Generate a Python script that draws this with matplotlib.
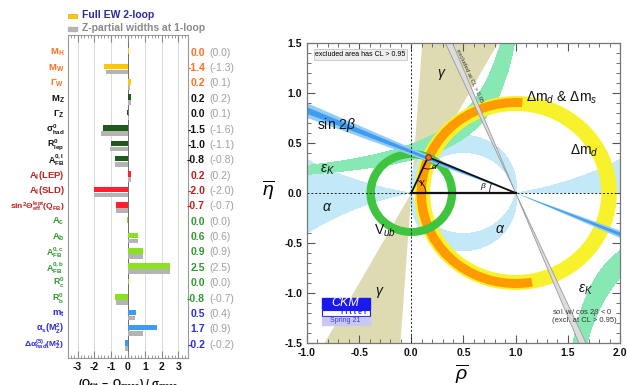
import numpy as np
import matplotlib.pyplot as plt
from matplotlib.patches import Wedge, Rectangle, Arc
from matplotlib.ticker import MultipleLocator, FormatStrFormatter

plt.rcParams['font.family'] = ['Liberation Sans', 'DejaVu Sans']
plt.rcParams['mathtext.fontset'] = 'custom'
plt.rcParams['mathtext.rm'] = 'Liberation Sans'
plt.rcParams['mathtext.it'] = 'Liberation Sans:italic'
plt.rcParams['mathtext.bf'] = 'Liberation Sans:bold'
plt.rcParams['axes.unicode_minus'] = False

# ---- left panel: EW fit pulls ----
labels = [r'$\mathbf{M_H}$', r'$\mathbf{M_W}$', r'$\mathbf{\Gamma_W}$', r'$\mathbf{M_Z}$',
          r'$\mathbf{\Gamma_Z}$', r'$\mathbf{\sigma^0_{had}}$', r'$\mathbf{R^0_{lep}}$',
          r'$\mathbf{A^{0,l}_{FB}}$', r'$\mathbf{A_l(LEP)}$', r'$\mathbf{A_l(SLD)}$',
          r'$\mathbf{sin^2\Theta^{lept}_{eff}(Q_{FB})}$', r'$\mathbf{A_c}$', r'$\mathbf{A_b}$',
          r'$\mathbf{A^{0,c}_{FB}}$', r'$\mathbf{A^{0,b}_{FB}}$', r'$\mathbf{R^0_c}$',
          r'$\mathbf{R^0_b}$', r'$\mathbf{m_t}$', r'$\mathbf{\alpha_s(M^2_Z)}$',
          r'$\mathbf{\Delta\alpha^{(5)}_{had}(M^2_Z)}$']
pull_2loop = [0.03, -1.4, 0.2, 0.2, -0.04, -1.5, -1.0, -0.8, 0.2, -2.0,
              -0.7, -0.03, 0.6, 0.9, 2.5, 0.03, -0.8, 0.5, 1.7, -0.2]
pull_1loop = [0.02, -1.3, 0.1, 0.2, 0.08, -1.6, -1.1, -0.8, 0.2, -2.0,
              -0.7, -0.02, 0.6, 0.9, 2.5, 0.02, -0.7, 0.4, 0.9, -0.2]
group = [0, 0, 0, 1, 1, 1, 1, 1, 2, 2, 2, 3, 3, 3, 3, 3, 3, 4, 4, 4]
label_colors = ['#ff7020', '#111111', '#c0201c', '#2f9a2f', '#2a2ae0']
bar_colors = ['#ffc800', '#1f5a1a', '#ff1f2e', '#8ae21e', '#3c9cf5']
grey_bar = '#b4b4b4'

# ---- right panel: CKM constraints ----
apex = (0.16, 0.36)
vub_r = (0.35, 0.43)
dmd_r = (0.82, 0.97)
dms_r = (0.86, 0.95)
dms_theta = (86, 280)
gamma_deg = (61, 86)
beta_deg = (20.6, 24.2)
beta_core = (21.6, 23.2)
beta_excl_deg = (65.8, 68.0)
epsk_rho0 = 1.27
epsk_k = (0.42, 0.62)
alpha_deg = (82, 102)
alpha_small = (-10.5, 9.0)

fig = plt.figure(figsize=(6.27, 3.85), dpi=100)
W, H = 627.0, 385.0


def fx(x):
    return x / W


def fy(y):
    return 1 - y / H


ax1 = fig.add_axes([fx(68), fy(358), 120 / W, 323 / H])
n = len(labels)
ypos = np.arange(n)
cols = [bar_colors[g] for g in group]
ax1.barh(ypos, pull_2loop, height=0.36, color=cols, zorder=3)
ax1.barh(ypos + 0.36, pull_1loop, height=0.30, color=grey_bar, zorder=3)
for xg in range(-3, 4):
    ax1.axvline(xg, color='#555555' if xg == 0 else '#d4d4d4', lw=0.6, zorder=1)
ax1.set_xlim(-3.57, 3.57)
ax1.set_ylim(19.97, -1.05)
ax1.set_yticks([])
ax1.set_xticks(range(-3, 4))
ax1.xaxis.set_minor_locator(MultipleLocator(0.2))
ax1.tick_params(axis='x', which='both', direction='in', top=True, labelsize=7.5,
                colors='#888888', labelcolor='#111111', pad=3)
ax1.tick_params(axis='x', which='major', length=5)
ax1.tick_params(axis='x', which='minor', length=2.5)
for lab in ax1.get_xticklabels():
    lab.set_fontweight('bold')
for s in ax1.spines.values():
    s.set_color('#999999')
    s.set_linewidth(0.8)

for i in range(n):
    c = label_colors[group[i]]
    fs = 6.8
    if len(labels[i]) > 40:
        fs = 6.0
    elif '^' in labels[i] and '_' in labels[i]:
        fs = 6.4
    ax1.text(-0.03, i + 0.1, labels[i], transform=ax1.get_yaxis_transform(),
             ha='right', va='center', fontsize=fs, color=c)
    v2 = round(pull_2loop[i], 1) + 0.0
    v1 = round(pull_1loop[i], 1) + 0.0
    ax1.text(1.142, i + 0.1, f'{v2:.1f}', transform=ax1.get_yaxis_transform(),
             ha='right', va='center', fontsize=7.5, color=c, fontweight='bold')
    ax1.text(1.18, i + 0.1, f'({v1:.1f})', transform=ax1.get_yaxis_transform(),
             ha='left', va='center', fontsize=7.5, color='#a0a0a0')

# legend
fig.patches.append(Rectangle((fx(68), fy(18)), 9 / W, 4.5 / H, transform=fig.transFigure,
                             color=bar_colors[0], ec='#cc9900', lw=0.4))
fig.patches.append(Rectangle((fx(68), fy(31)), 9 / W, 4.5 / H, transform=fig.transFigure,
                             color=grey_bar))
fig.text(fx(82), fy(15), 'Full EW 2-loop', fontsize=7.5, fontweight='bold',
         color='#2b2b9a', va='center')
fig.text(fx(82), fy(28), 'Z-partial widths at 1-loop', fontsize=7.5, fontweight='bold',
         color='#8a8a8a', va='center')
fig.text(fx(128), fy(377), r'$\mathbf{(O_{fit}\ -\ O_{meas})\ /\ \sigma_{meas}}$',
         fontsize=7.5, ha='center', va='top', color='#111111')

# ---- right panel ----
ax2 = fig.add_axes([fx(307), fy(343), 313 / W, 300 / H])
ax2.set_xlim(-1, 2)
ax2.set_ylim(-1.5, 1.5)

rho, eta = np.meshgrid(np.linspace(-1, 2, 900), np.linspace(-1.5, 1.5, 900))
theta = np.degrees(np.arctan2(eta, eta ** 2 - rho * (1 - rho)))
alpha_mask = ((np.abs(theta) >= alpha_deg[0]) & (np.abs(theta) <= alpha_deg[1])) | \
             ((theta >= alpha_small[0]) & (theta <= alpha_small[1]) & (rho < 0.5)) | \
             ((theta >= 0) & (theta <= alpha_small[1]) & (rho >= 0.5))
prod = eta * (epsk_rho0 - rho)
epsk_mask = (prod >= epsk_k[0]) & (prod <= epsk_k[1])

# gamma wedges
for off in (0, 180):
    ax2.add_patch(Wedge((0, 0), 4, gamma_deg[0] + off, gamma_deg[1] + off,
                        color='#dedbb3', lw=0, zorder=1))
ax2.contourf(rho, eta, alpha_mask.astype(float), levels=[0.5, 1.5],
             colors=['#c3e8f8'], zorder=2)
ax2.contourf(rho, eta, epsk_mask.astype(float), levels=[0.5, 1.5],
             colors=['#88e8b4'], zorder=3)
ax2.add_patch(Wedge((1, 0), dmd_r[1], 0, 360, width=dmd_r[1] - dmd_r[0],
                    color='#f8f22c', lw=0, zorder=4))
ax2.add_patch(Wedge((1, 0), dms_r[1], dms_theta[0], dms_theta[1], width=dms_r[1] - dms_r[0],
                    color='#ff9a00', lw=0, zorder=5))
ax2.add_patch(Wedge((0, 0), vub_r[1], 0, 360, width=vub_r[1] - vub_r[0],
                    color='#3fc43f', lw=0, zorder=6))
for off in (0, 180):
    ax2.add_patch(Wedge((1, 0), 4, 180 - beta_deg[1] + off, 180 - beta_deg[0] + off,
                        color='#93ccf4', lw=0, zorder=7))
    ax2.add_patch(Wedge((1, 0), 4, 180 - beta_core[1] + off, 180 - beta_core[0] + off,
                        color='#3f9cf0', lw=0, zorder=7))
    ax2.add_patch(Wedge((1, 0), 4, 180 - beta_excl_deg[1] + off, 180 - beta_excl_deg[0] + off,
                        fc='#dcdcdc', ec='#9a9a9a', lw=0.6, zorder=8))

ax2.axhline(0, color='#222222', ls=(0, (2, 2)), lw=0.7, zorder=9)
ax2.axvline(0, color='#222222', ls=(0, (2, 2)), lw=0.7, zorder=9)

# unitarity triangle
ax2.plot([0, 1], [0, 0], color='#111111', lw=1.6, zorder=10)
ax2.plot([0, apex[0], 1], [0, apex[1], 0], color='#111111', lw=1.3, zorder=10)
ang_apex0 = np.degrees(np.arctan2(apex[1], apex[0]))
ang_1 = np.degrees(np.arctan2(apex[1], apex[0] - 1))
ax2.add_patch(Arc((0, 0), 0.28, 0.28, theta1=0, theta2=ang_apex0, color='#111111', lw=0.6, zorder=10))
ax2.add_patch(Arc(apex, 0.24, 0.24, theta1=ang_apex0 + 180, theta2=ang_1 + 180,
                  color='#111111', lw=0.6, zorder=10))
ax2.add_patch(Arc((1, 0), 0.5, 0.5, theta1=ang_1, theta2=180, color='#111111', lw=0.6, zorder=10))
ax2.plot([apex[0]], [apex[1]], 'o', ms=4, mfc='#ff6a1a', mec='#8a2a00', mew=0.8, zorder=11)
ax2.text(0.07, 0.09, r'$\gamma$', fontsize=6, zorder=11)
ax2.text(0.19, 0.24, r'$\alpha$', fontsize=6, zorder=11)
ax2.text(0.66, 0.05, r'$\beta$', fontsize=6, zorder=11)

# region labels
lab_kw = dict(fontsize=10, color='#111111', zorder=12)
ax2.text(-0.9, 0.68, r'sin 2$\beta$', va='center', **lab_kw)
ax2.text(-0.88, 0.23, r'$\epsilon_K$', va='center', **lab_kw)
ax2.text(-0.86, -0.14, r'$\alpha$', va='center', **lab_kw)
ax2.text(-0.36, -0.38, r'V$_{ub}$', va='center', **lab_kw)
ax2.text(0.8, -0.36, r'$\alpha$', va='center', **lab_kw)
ax2.text(0.25, 1.18, r'$\gamma$', va='center', **lab_kw)
ax2.text(-0.35, -1.0, r'$\gamma$', va='center', **lab_kw)
ax2.text(1.1, 0.95, r'$\Delta$m$_d$ & $\Delta$m$_s$', va='center', **lab_kw)
ax2.text(1.52, 0.42, r'$\Delta$m$_d$', va='center', **lab_kw)
ax2.text(1.6, -0.97, r'$\epsilon_K$', va='center', **lab_kw)

ax2.text(-0.92, 1.385, 'excluded area has CL > 0.95', fontsize=5, va='center', zorder=12,
         bbox=dict(fc='#eeeeee', ec='#bbbbbb', lw=0.5, pad=1.2))
ax2.text(0.56, 1.17, 'excluded at CL > 0.95', fontsize=4.3, rotation=-65.5,
         ha='center', va='center', color='#333333', zorder=12)
ax2.text(1.35, -1.19, r'sol. w/ cos 2$\beta$ < 0', fontsize=5.5, color='#333333', va='center', zorder=12)
ax2.text(1.35, -1.28, '(excl. at CL > 0.95)', fontsize=5.5, color='#333333', va='center', zorder=12)

# CKMfitter logo
ax2.add_patch(Rectangle((-0.86, -1.16), 0.46, 0.11, color='#1a1aee', zorder=12))
ax2.add_patch(Rectangle((-0.86, -1.225), 0.46, 0.055, fc='white', ec='#1a1aee', lw=0.8, zorder=12))
ax2.add_patch(Rectangle((-0.86, -1.32), 0.46, 0.085, color='#c8c8f4', zorder=12))
ax2.text(-0.63, -1.105, 'CKM', fontsize=9, style='italic', color='white', ha='center', va='center', zorder=13)
ax2.text(-0.55, -1.197, 'f i t t e r', fontsize=5, fontweight='bold', color='#1a1aee',
         ha='center', va='center', zorder=13)
ax2.text(-0.63, -1.278, 'Spring 21', fontsize=5, color='#3a3aee', ha='center', va='center', zorder=13)

ax2.xaxis.set_major_locator(MultipleLocator(0.5))
ax2.yaxis.set_major_locator(MultipleLocator(0.5))
ax2.xaxis.set_minor_locator(MultipleLocator(0.1))
ax2.yaxis.set_minor_locator(MultipleLocator(0.1))
ax2.xaxis.set_major_formatter(FormatStrFormatter('%.1f'))
ax2.yaxis.set_major_formatter(FormatStrFormatter('%.1f'))
ax2.tick_params(which='both', direction='in', top=True, right=True, colors='#555555',
                labelcolor='#111111', labelsize=7.5)
ax2.tick_params(which='major', length=6)
ax2.tick_params(which='minor', length=3)
for lab in ax2.get_xticklabels() + ax2.get_yticklabels():
    lab.set_fontweight('bold')
for s in ax2.spines.values():
    s.set_color('#777777')
    s.set_linewidth(0.9)
    s.set_zorder(14)

fig.text(fx(268), fy(190), r'$\overline{\eta}$', fontsize=14, ha='center', va='center')
fig.text(fx(462), fy(374), r'$\overline{\rho}$', fontsize=14, ha='center', va='center')

fig.savefig('out.png', dpi=100)
